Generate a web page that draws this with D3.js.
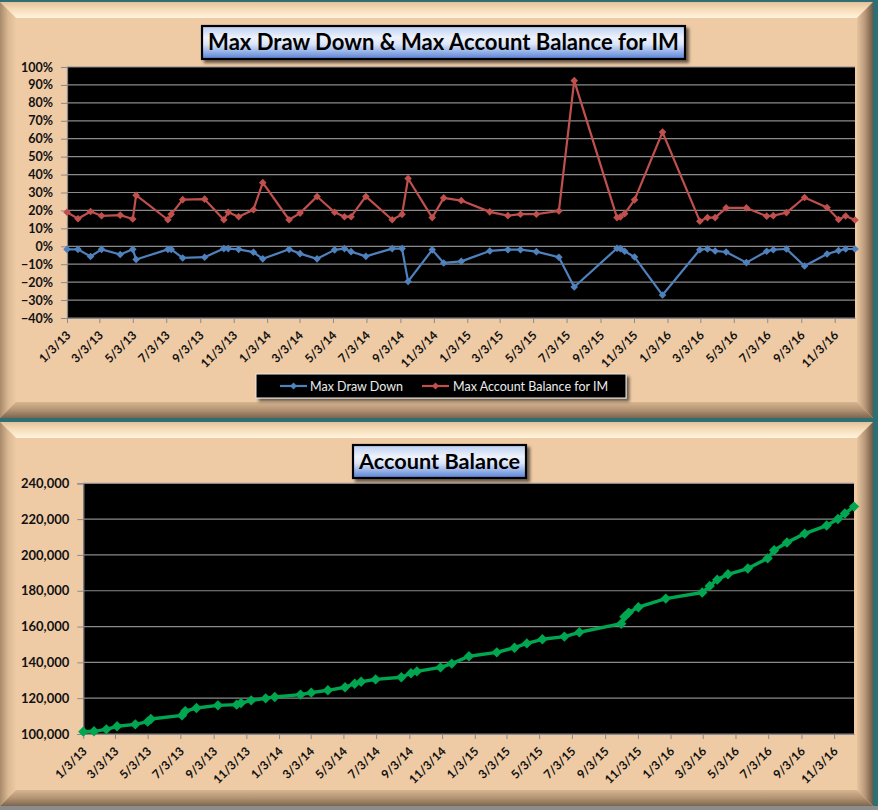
<!DOCTYPE html>
<html><head><meta charset="utf-8">
<script src="https://cdn.jsdelivr.net/npm/d3@7/dist/d3.min.js"></script>
<style>
html,body{margin:0;padding:0;background:#2e6f73;overflow:hidden;}
svg{display:block;}
</style></head>
<body>
<svg id="c" width="878" height="810"></svg>
<script>
// ---------------- DATA ----------------
const dates = ["2013-01-03","2013-01-23","2013-02-15","2013-03-07","2013-04-10","2013-05-03","2013-05-09","2013-07-06","2013-07-12","2013-08-02",
"2013-09-11","2013-10-16","2013-10-24","2013-11-12","2013-12-09","2013-12-26","2014-02-12","2014-03-04","2014-04-04","2014-05-06",
"2014-05-24","2014-06-05","2014-07-02","2014-08-19","2014-09-06","2014-09-17","2014-10-31","2014-11-21","2014-12-23","2015-02-13",
"2015-03-18","2015-04-10","2015-05-09","2015-06-19","2015-07-17","2015-10-03","2015-10-09","2015-10-17","2015-11-04","2015-12-25",
"2016-03-02","2016-03-16","2016-03-30","2016-04-19","2016-05-26","2016-07-02","2016-07-14","2016-08-07","2016-09-09","2016-10-20",
"2016-11-10","2016-11-23","2016-12-10"];
const maxDrawDown = [-0.017,-0.017,-0.057,-0.017,-0.046,-0.017,-0.074,-0.017,-0.017,-0.065,
-0.061,-0.013,-0.013,-0.017,-0.033,-0.070,-0.017,-0.041,-0.070,-0.020,
-0.013,-0.030,-0.056,-0.013,-0.013,-0.196,-0.020,-0.093,-0.084,-0.026,
-0.019,-0.019,-0.030,-0.061,-0.227,-0.011,-0.013,-0.028,-0.060,-0.272,
-0.019,-0.015,-0.026,-0.032,-0.091,-0.028,-0.019,-0.015,-0.110,-0.043,
-0.024,-0.015,-0.015];
const maxAccountBalanceIM = [0.190,0.154,0.194,0.170,0.174,0.152,0.285,0.148,0.178,0.260,
0.263,0.148,0.190,0.165,0.204,0.355,0.148,0.185,0.278,0.190,
0.165,0.165,0.278,0.148,0.178,0.378,0.160,0.270,0.255,0.192,
0.171,0.179,0.179,0.197,0.924,0.160,0.164,0.182,0.259,0.637,
0.140,0.160,0.160,0.214,0.214,0.168,0.171,0.188,0.272,0.216,
0.149,0.169,0.147];
const accountBalance = [101300,101500,102600,104300,105400,106900,108400,110400,112800,114500,
116000,116400,117300,118800,119900,120700,122000,123100,124400,126100,
128100,129200,130500,131700,133900,135000,137200,139300,143400,145600,
148200,150600,152900,154400,156800,161600,165500,167800,170800,175600,
179000,182700,186200,189200,192400,198100,202600,206900,211900,216400,
220100,223100,227000];
const xTickLabels = ["1/3/13","3/3/13","5/3/13","7/3/13","9/3/13","11/3/13","1/3/14","3/3/14","5/3/14","7/3/14","9/3/14","11/3/14",
"1/3/15","3/3/15","5/3/15","7/3/15","9/3/15","11/3/15","1/3/16","3/3/16","5/3/16","7/3/16","9/3/16","11/3/16"];
const pctTicks = [1.0,0.9,0.8,0.7,0.6,0.5,0.4,0.3,0.2,0.1,0,-0.1,-0.2,-0.3,-0.4];
const balTicks = [240000,220000,200000,180000,160000,140000,120000,100000];
const title1 = "Max Draw Down & Max Account Balance for IM";
const title2 = "Account Balance";
const seriesNames = ["Max Draw Down","Max Account Balance for IM"];

// ---------------- SETUP ----------------
const parseISO = d3.timeParse("%Y-%m-%d");
const parseTick = d3.timeParse("%m/%d/%y");
const pts = dates.map((d,i)=>({date:parseISO(d), dd:maxDrawDown[i], mb:maxAccountBalanceIM[i], bal:accountBalance[i]}));
const tickDates = xTickLabels.map(parseTick);
const svg = d3.select("#c");
const defs = svg.append("defs");
const FONT = "Lato, 'Open Sans', sans-serif";

function lg(id, stops, x2, y2){
  const g = defs.append("linearGradient").attr("id",id).attr("x1",0).attr("y1",0).attr("x2",x2).attr("y2",y2);
  stops.forEach(s=>g.append("stop").attr("offset",s[0]).attr("stop-color",s[1]));
}
lg("gTop",[[0,"#e2c29c"],[0.45,"#f6dcb8"],[1,"#fff4de"]],0,1);
lg("gLeft",[[0,"#a88a6a"],[0.5,"#d9b892"],[1,"#eccaa4"]],1,0);
lg("gRight",[[0,"#e6c49e"],[0.5,"#b8987a"],[1,"#6e5842"]],1,0);
lg("gBot",[[0,"#d6b590"],[0.5,"#b39373"],[1,"#7c654e"]],0,1);
lg("gTitle",[[0,"#b9cdf2"],[0.35,"#eef2fb"],[0.55,"#dbe5f8"],[1,"#5580d6"]],0,1);
const sh = defs.append("filter").attr("id","shadow").attr("x","-10%").attr("y","-30%").attr("width","130%").attr("height","180%");
sh.append("feDropShadow").attr("dx",3).attr("dy",3).attr("stdDeviation",1.6).attr("flood-color","#000").attr("flood-opacity",0.55);

function panel(x0,y0,x1,y1,b){
  const g = svg.append("g");
  g.append("rect").attr("x",x0).attr("y",y0).attr("width",x1-x0).attr("height",y1-y0).attr("fill","#efcba5");
  const poly = (p,f)=>g.append("polygon").attr("points",p.map(q=>q.join(",")).join(" ")).attr("fill",f);
  poly([[x0,y0],[x1,y0],[x1-b,y0+b],[x0+b,y0+b]],"url(#gTop)");
  poly([[x0,y0],[x0+b,y0+b],[x0+b,y1-b],[x0,y1]],"url(#gLeft)");
  poly([[x1,y0],[x1,y1],[x1-b,y1-b],[x1-b,y0+b]],"url(#gRight)");
  poly([[x0,y1],[x0+b,y1-b],[x1-b,y1-b],[x1,y1]],"url(#gBot)");
}
svg.append("rect").attr("x",0).attr("y",806).attr("width",878).attr("height",4).attr("fill","#8c8c8c");
panel(0,2,873,418,16);
panel(0,422,873,806,16);

function titleBox(x,y,w,h,text){
  svg.append("rect").attr("x",x).attr("y",y).attr("width",w).attr("height",h)
    .attr("fill","url(#gTitle)").attr("stroke","#000").attr("stroke-width",2.2).attr("filter","url(#shadow)");
  const t = svg.append("text").attr("x",x+w/2).attr("y",y+h/2+7.5).attr("text-anchor","middle")
    .attr("font-family",FONT).attr("font-weight","bold").attr("font-size",22).attr("fill","#000").text(text);
  const target = w-12;
  const len = t.node().getComputedTextLength();
  t.attr("font-size", 22*target/len);
}

function gridAndAxes(g, x, y, ticks, fmt, fsY){
  const [r0,r1] = x.range();
  g.append("rect").attr("x",r0).attr("y",y.range()[1]).attr("width",r1-r0).attr("height",y.range()[0]-y.range()[1]).attr("fill","#000");
  g.append("g").selectAll("line").data(ticks).join("line")
    .attr("x1",r0).attr("x2",r1).attr("y1",d=>y(d)).attr("y2",d=>y(d))
    .attr("stroke","#8a8a8a").attr("stroke-width",1.2);
  const ya = g.append("g").attr("transform",`translate(${r0},0)`)
    .call(d3.axisLeft(y).tickValues(ticks).tickFormat(fmt).tickSize(6).tickPadding(8));
  ya.select(".domain").attr("stroke","#8a8a8a").attr("stroke-width",1.2);
  ya.selectAll(".tick line").attr("stroke","#8a8a8a");
  ya.selectAll("text").attr("font-family",FONT).attr("font-weight","bold").attr("font-size",fsY).attr("fill","#111");
  const xa = g.append("g").attr("transform",`translate(0,${y.range()[0]})`)
    .call(d3.axisBottom(x).tickValues(tickDates).tickFormat((d,i)=>xTickLabels[i]).tickSize(5).tickSizeOuter(0));
  xa.select(".domain").attr("stroke","#8a8a8a").attr("stroke-width",1.2);
  xa.selectAll(".tick line").attr("stroke","#8a8a8a");
  xa.selectAll("text").attr("font-family",FONT).attr("font-weight","bold").attr("font-size",12).attr("fill","#111")
    .attr("text-anchor","end").attr("dy",0).attr("y",0)
    .attr("transform","translate(4,18) rotate(-45)");
}
const diamond = r => `M0,${-r}L${r},0L0,${r}L${-r},0Z`;

// ---------------- TOP CHART ----------------
const x1s = d3.scaleTime().domain([tickDates[0], pts[pts.length-1].date]).range([67,855]);
const y1s = d3.scaleLinear().domain([-0.4,1.0]).range([318,67]);
const g1 = svg.append("g");
gridAndAxes(g1, x1s, y1s, pctTicks, d3.format(".0%"), 12.5);
const series = [{key:"dd",color:"#4f81bd",name:seriesNames[0]},{key:"mb",color:"#c0504d",name:seriesNames[1]}];
series.forEach(s=>{
  g1.append("path").datum(pts).attr("fill","none").attr("stroke",s.color).attr("stroke-width",2.2)
    .attr("stroke-linejoin","round")
    .attr("d",d3.line().x(d=>x1s(d.date)).y(d=>y1s(d[s.key])));
  g1.append("g").selectAll("path").data(pts).join("path").attr("d",diamond(3.8)).attr("fill",s.color)
    .attr("transform",d=>`translate(${x1s(d.date)},${y1s(d[s.key])})`);
});
titleBox(202,26,483,33,title1);

// legend
const lgG = svg.append("g");
lgG.append("rect").attr("x",256).attr("y",374).attr("width",370).attr("height",24)
  .attr("fill","#000").attr("stroke","#e8e8e8").attr("stroke-width",1).attr("filter","url(#shadow)");
const legendPos = [{lx:280,tx:310},{lx:422,tx:453}];
series.forEach((s,i)=>{
  const p = legendPos[i];
  lgG.append("line").attr("x1",p.lx).attr("x2",p.lx+27).attr("y1",386).attr("y2",386).attr("stroke",s.color).attr("stroke-width",2.2);
  lgG.append("path").attr("d",diamond(3.5)).attr("fill",s.color).attr("transform",`translate(${p.lx+13.5},386)`);
  lgG.append("text").attr("x",p.tx).attr("y",390.5).attr("font-family",FONT).attr("font-size",12.5).attr("fill","#ececec").text(s.name);
});

// ---------------- BOTTOM CHART ----------------
const x2s = d3.scaleTime().domain([tickDates[0], pts[pts.length-1].date]).range([83.3,854]);
const y2s = d3.scaleLinear().domain([100000,240000]).range([734,483.3]);
const g2 = svg.append("g");
gridAndAxes(g2, x2s, y2s, balTicks, d3.format(",.0f"), 13);
g2.append("path").datum(pts).attr("fill","none").attr("stroke","#00a650").attr("stroke-width",3.4)
  .attr("stroke-linejoin","round")
  .attr("d",d3.line().x(d=>x2s(d.date)).y(d=>y2s(d.bal)));
g2.append("g").selectAll("path").data(pts).join("path").attr("d",diamond(5.2)).attr("fill","#00a650")
  .attr("transform",d=>`translate(${x2s(d.date)},${y2s(d.bal)})`);
titleBox(353,445,173,33,title2);
</script>
</body></html>
